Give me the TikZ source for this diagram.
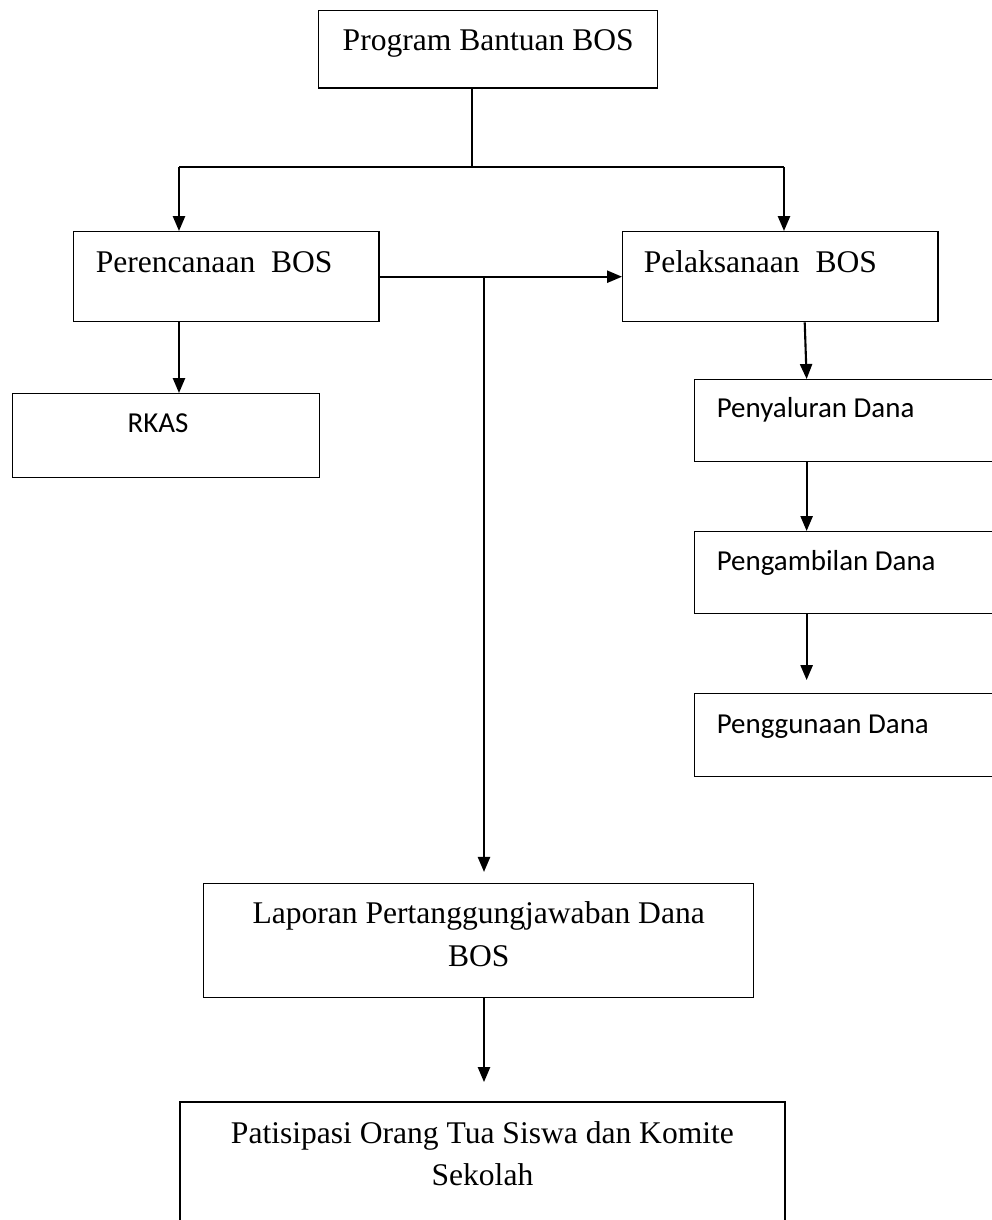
\documentclass[tikz,border=0pt]{standalone}
\usepackage{fontspec}
\setmainfont{Liberation Serif}
\newfontfamily\calibri{Carlito}
\usetikzlibrary{arrows.meta,positioning}

\begin{document}
\begin{tikzpicture}[
    x=0.3802pt, y=-0.3802pt,
    kotak/.style={draw, line width=0.55pt, anchor=north west, inner ysep=0pt,
        align=flush left, font=\fontsize{12}{16.3}\selectfont},
    % kotak kiri dengan huruf sans
    dana/.style={kotak, font=\calibri\fontsize{11}{13}\selectfont,
        inner xsep=8.4pt, text width=99.5pt},
    garis/.style={line width=0.45pt},
    panah/.style={-{Triangle[length=5.7pt,width=4.6pt]}, line width=0.8pt}
]
    \useasboundingbox (0,0) rectangle (992,1220);

    \node[kotak, align=flush center, inner xsep=0pt, text width=128.9pt,
        text height=15.2pt, text depth=14.1pt] (prog) at (318,10) {Program Bantuan BOS};

    \node[kotak, inner xsep=8.4pt, text width=99.2pt,
        text height=15.6pt, text depth=18.6pt] (ren) at (73,231) {Perencanaan~~BOS};
    \node[kotak, inner xsep=8.0pt, text width=103.8pt,
        text height=15.6pt, text depth=18.6pt] (lak) at (622,231) {Pelaksanaan~~BOS};

    \node[kotak, font=\calibri\fontsize{11}{13}\selectfont, inner xsep=43.7pt, text width=29.3pt,
        text height=14.8pt, text depth=17.1pt] (rkas) at (12,393) {RKAS};

    \node[dana, text height=14.4pt, text depth=16.7pt] (salur) at (694,379) {Penyaluran Dana};
    \node[dana, text height=14.8pt, text depth=16.3pt] (ambil) at (694,531) {Pengambilan Dana};
    \node[dana, text height=15.2pt, text depth=16.3pt] (guna) at (694,693) {Penggunaan Dana};

    \node[kotak, align=flush center, inner xsep=7.2pt, text width=194.7pt,
        text height=15.2pt, text depth=28.1pt] (lapor) at (203,883) {Laporan Pertanggungjawaban Dana BOS};
    \node[kotak, line width=0.75pt, align=flush center, inner xsep=7.2pt, text width=215.6pt,
        text height=15.6pt, text depth=37.3pt] (peran) at (179,1101) {Patisipasi Orang Tua Siswa dan Komite Sekolah};

    \coordinate (cab) at (472,167);
    \coordinate (cabkiri) at (179,167);
    \coordinate (cabkanan) at (784,167);
    \coordinate (tengah) at (484,276);

    \draw[garis] (prog.south -| cab) -- (cab);
    \draw[garis] (cabkiri) -- (cabkanan);
    \draw[panah] (cabkiri) -- (cabkiri |- ren.north);
    \draw[panah] (cabkanan) -- (cabkanan |- lak.north);

    \draw[panah] (ren.east) -- (lak.west);
    \draw[panah, shorten >=4.2pt] (tengah) -- (tengah |- lapor.north);
    \draw[panah] (ren.south -| cabkiri) -- (rkas.north -| cabkiri);

    \draw[panah] ([xshift=9.3pt]lak.south) -- ([xshift=-15.6pt]salur.north);
    \draw[panah] ([xshift=-15.6pt]salur.south) -- ([xshift=-15.6pt]ambil.north);
    \draw[panah, shorten >=4.9pt] ([xshift=-15.6pt]ambil.south) -- ([xshift=-15.6pt]guna.north);

    \draw[panah, shorten >=7.2pt] (lapor.south -| tengah) -- (peran.north -| tengah);
\end{tikzpicture}
\end{document}
